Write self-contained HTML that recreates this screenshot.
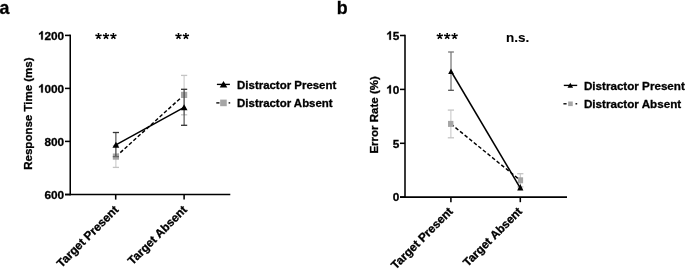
<!DOCTYPE html>
<html><head><meta charset="utf-8"><style>
html,body{margin:0;padding:0;background:#fff;overflow:hidden;}
svg{display:block;filter:grayscale(1);font-family:"Liberation Sans",sans-serif;font-weight:bold;}
text,.g{stroke:#000;stroke-width:0.3px;}
.g{stroke-width:52.1px;fill:#000}
</style></head><body>
<svg width="685" height="269" viewBox="0 0 685 269">
<rect width="685" height="269" fill="#fff"/>
<line x1="70.25" y1="34.62" x2="70.25" y2="195.33" stroke="#000" stroke-width="1.55" />
<line x1="65" y1="35.4" x2="70.25" y2="35.4" stroke="#000" stroke-width="1.55" />
<line x1="65" y1="88.4" x2="70.25" y2="88.4" stroke="#000" stroke-width="1.55" />
<line x1="65" y1="141.4" x2="70.25" y2="141.4" stroke="#000" stroke-width="1.55" />
<line x1="65" y1="194.55" x2="70.25" y2="194.55" stroke="#000" stroke-width="1.55" />
<line x1="65" y1="194.55" x2="230.3" y2="194.55" stroke="#000" stroke-width="1.55" />
<line x1="115.7" y1="194.55" x2="115.7" y2="199.6" stroke="#000" stroke-width="1.55" />
<line x1="184.1" y1="194.55" x2="184.1" y2="199.6" stroke="#000" stroke-width="1.55" />
<text x="64.2" y="39.6" font-size="11.8" text-anchor="end" fill="#000" >200</text>
<path transform="translate(38.35,39.6) scale(0.005762,-0.005762)" d="M772 0H491V1060C386 962 263 889 128 841V1096C199 1119 276 1164 360 1229C443 1294 500 1374 530 1466H772Z" class="g"/>
<text x="64.2" y="92.6" font-size="11.8" text-anchor="end" fill="#000" >000</text>
<path transform="translate(38.35,92.6) scale(0.005762,-0.005762)" d="M772 0H491V1060C386 962 263 889 128 841V1096C199 1119 276 1164 360 1229C443 1294 500 1374 530 1466H772Z" class="g"/>
<text x="64.2" y="145.6" font-size="11.8" text-anchor="end" fill="#000" >800</text>
<text x="64.2" y="198.75" font-size="11.8" text-anchor="end" fill="#000" >600</text>
<line x1="405" y1="34.73" x2="405" y2="197.88" stroke="#000" stroke-width="1.55" />
<line x1="400" y1="35.5" x2="405" y2="35.5" stroke="#000" stroke-width="1.55" />
<line x1="400" y1="89.4" x2="405" y2="89.4" stroke="#000" stroke-width="1.55" />
<line x1="400" y1="143.3" x2="405" y2="143.3" stroke="#000" stroke-width="1.55" />
<line x1="400" y1="197.1" x2="405" y2="197.1" stroke="#000" stroke-width="1.55" />
<line x1="400" y1="197.1" x2="567" y2="197.1" stroke="#000" stroke-width="1.55" />
<line x1="450.9" y1="197.1" x2="450.9" y2="202.2" stroke="#000" stroke-width="1.55" />
<line x1="520.3" y1="197.1" x2="520.3" y2="202.2" stroke="#000" stroke-width="1.55" />
<text x="399.2" y="39.7" font-size="11.8" text-anchor="end" fill="#000" >5</text>
<path transform="translate(386.47,39.7) scale(0.005762,-0.005762)" d="M772 0H491V1060C386 962 263 889 128 841V1096C199 1119 276 1164 360 1229C443 1294 500 1374 530 1466H772Z" class="g"/>
<text x="399.2" y="93.6" font-size="11.8" text-anchor="end" fill="#000" >0</text>
<path transform="translate(386.47,93.6) scale(0.005762,-0.005762)" d="M772 0H491V1060C386 962 263 889 128 841V1096C199 1119 276 1164 360 1229C443 1294 500 1374 530 1466H772Z" class="g"/>
<text x="399.2" y="147.5" font-size="11.8" text-anchor="end" fill="#000" >5</text>
<text x="399.2" y="201.3" font-size="11.8" text-anchor="end" fill="#000" >0</text>
<line x1="115.9" y1="145.8" x2="115.9" y2="167.4" stroke="#c4c4c4" stroke-width="1.0" />
<line x1="112.8" y1="145.8" x2="119" y2="145.8" stroke="#c4c4c4" stroke-width="1.3" />
<line x1="112.8" y1="167.4" x2="119" y2="167.4" stroke="#c4c4c4" stroke-width="1.3" />
<line x1="184.1" y1="75.4" x2="184.1" y2="114.8" stroke="#c4c4c4" stroke-width="1.0" />
<line x1="181" y1="75.4" x2="187.2" y2="75.4" stroke="#c4c4c4" stroke-width="1.3" />
<line x1="181" y1="114.8" x2="187.2" y2="114.8" stroke="#c4c4c4" stroke-width="1.3" />
<line x1="115.9" y1="156.6" x2="184.1" y2="94.9" stroke="#000" stroke-width="1.45" stroke-dasharray="3.7 2.2"/>
<rect x="112.8" y="153.5" width="6.2" height="6.2" fill="#a6a6a6"/>
<rect x="181" y="91.8" width="6.2" height="6.2" fill="#a6a6a6"/>
<line x1="115.9" y1="132.5" x2="115.9" y2="156.6" stroke="#333" stroke-width="1.0" />
<line x1="112.8" y1="132.5" x2="119" y2="132.5" stroke="#333" stroke-width="1.3" />
<line x1="112.8" y1="156.6" x2="119" y2="156.6" stroke="#666" stroke-width="1.3" />
<line x1="184.1" y1="89.3" x2="184.1" y2="125.3" stroke="#333" stroke-width="1.0" />
<line x1="181" y1="89.3" x2="187.2" y2="89.3" stroke="#333" stroke-width="1.3" />
<line x1="181" y1="125.3" x2="187.2" y2="125.3" stroke="#333" stroke-width="1.3" />
<line x1="115.9" y1="144.9" x2="184.1" y2="107.3" stroke="#000" stroke-width="1.5" />
<polygon points="115.9,141.8 119.35,147.8 112.45,147.8" fill="#000"/>
<polygon points="184.1,104.3 187.55,110.3 180.65,110.3" fill="#000"/>
<line x1="450.9" y1="110.1" x2="450.9" y2="137.8" stroke="#c4c4c4" stroke-width="1.0" />
<line x1="447.8" y1="110.1" x2="454" y2="110.1" stroke="#c4c4c4" stroke-width="1.3" />
<line x1="447.8" y1="137.8" x2="454" y2="137.8" stroke="#c4c4c4" stroke-width="1.3" />
<line x1="520.3" y1="173.7" x2="520.3" y2="186.9" stroke="#c4c4c4" stroke-width="1.0" />
<line x1="517.2" y1="173.7" x2="523.4" y2="173.7" stroke="#c4c4c4" stroke-width="1.3" />
<line x1="517.2" y1="186.9" x2="523.4" y2="186.9" stroke="#c4c4c4" stroke-width="1.3" />
<line x1="450.9" y1="123.9" x2="520.3" y2="180.3" stroke="#000" stroke-width="1.45" stroke-dasharray="3.7 2.2"/>
<rect x="448" y="120.9" width="5.4" height="6" fill="#a6a6a6"/>
<rect x="517.9" y="177.3" width="5.2" height="6" fill="#a6a6a6"/>
<line x1="451" y1="52" x2="451" y2="90.3" stroke="#555" stroke-width="1.0" />
<line x1="448.1" y1="52" x2="453.9" y2="52" stroke="#777" stroke-width="1.3" />
<line x1="448.1" y1="90.3" x2="453.9" y2="90.3" stroke="#555" stroke-width="1.3" />
<line x1="450.9" y1="71" x2="520.3" y2="188.1" stroke="#000" stroke-width="1.5" />
<polygon points="451,68.6 453.8,74 448.2,74" fill="#000"/>
<polygon points="520.3,183.9 523.4,190.5 517.2,190.5" fill="#000"/>
<text x="-0.6" y="13.9" font-size="17.8" text-anchor="start" fill="#000" >a</text>
<text x="336.7" y="13.9" font-size="17.8" text-anchor="start" fill="#000" >b</text>
<text transform="translate(32.2,113.6) rotate(-90)" font-size="11.5" text-anchor="middle">Response Time (ms)</text>
<text transform="translate(378.3,114.9) rotate(-90)" font-size="11.5" text-anchor="middle">Error Rate (%)</text>
<text transform="translate(119.2,210.4) rotate(-45)" font-size="11.8" text-anchor="end">Target Present</text>
<text transform="translate(187.7,210.4) rotate(-45)" font-size="11.8" text-anchor="end">Target Absent</text>
<text transform="translate(453.6,212.1) rotate(-45)" font-size="11.8" text-anchor="end">Target Present</text>
<text transform="translate(522.9,212.1) rotate(-45)" font-size="11.8" text-anchor="end">Target Absent</text>
<path d="M99 36.1L99.38 32.9L97.62 32.9L98 36.1ZM98.65 35.62L95.73 34.28L95.19 35.94L98.35 36.58ZM98.1 35.81L95.91 38.17L97.33 39.2L98.9 36.39ZM98.1 36.39L99.67 39.2L101.09 38.17L98.9 35.81ZM98.65 36.58L101.81 35.94L101.27 34.28L98.35 35.62Z" fill="#000"/>
<path d="M106.5 36.1L106.88 32.9L105.12 32.9L105.5 36.1ZM106.15 35.62L103.23 34.28L102.69 35.94L105.85 36.58ZM105.6 35.81L103.41 38.17L104.83 39.2L106.4 36.39ZM105.6 36.39L107.17 39.2L108.59 38.17L106.4 35.81ZM106.15 36.58L109.31 35.94L108.77 34.28L105.85 35.62Z" fill="#000"/>
<path d="M113.9 36.1L114.28 32.9L112.53 32.9L112.9 36.1ZM113.55 35.62L110.63 34.28L110.09 35.94L113.25 36.58ZM113 35.81L110.81 38.17L112.23 39.2L113.8 36.39ZM113 36.39L114.57 39.2L115.99 38.17L113.8 35.81ZM113.55 36.58L116.71 35.94L116.17 34.28L113.25 35.62Z" fill="#000"/>
<path d="M179 36.1L179.38 32.9L177.62 32.9L178 36.1ZM178.65 35.62L175.73 34.28L175.19 35.94L178.35 36.58ZM178.1 35.81L175.91 38.17L177.33 39.2L178.9 36.39ZM178.1 36.39L179.67 39.2L181.09 38.17L178.9 35.81ZM178.65 36.58L181.81 35.94L181.27 34.28L178.35 35.62Z" fill="#000"/>
<path d="M186.4 36.1L186.78 32.9L185.03 32.9L185.4 36.1ZM186.05 35.62L183.13 34.28L182.59 35.94L185.75 36.58ZM185.5 35.81L183.31 38.17L184.73 39.2L186.3 36.39ZM185.5 36.39L187.07 39.2L188.49 38.17L186.3 35.81ZM186.05 36.58L189.21 35.94L188.67 34.28L185.75 35.62Z" fill="#000"/>
<path d="M440.3 36.1L440.68 32.9L438.93 32.9L439.3 36.1ZM439.95 35.62L437.03 34.28L436.49 35.94L439.65 36.58ZM439.4 35.81L437.21 38.17L438.63 39.2L440.2 36.39ZM439.4 36.39L440.97 39.2L442.39 38.17L440.2 35.81ZM439.95 36.58L443.11 35.94L442.57 34.28L439.65 35.62Z" fill="#000"/>
<path d="M447.7 36.1L448.07 32.9L446.32 32.9L446.7 36.1ZM447.35 35.62L444.43 34.28L443.89 35.94L447.05 36.58ZM446.8 35.81L444.61 38.17L446.03 39.2L447.6 36.39ZM446.8 36.39L448.37 39.2L449.79 38.17L447.6 35.81ZM447.35 36.58L450.51 35.94L449.97 34.28L447.05 35.62Z" fill="#000"/>
<path d="M455.1 36.1L455.48 32.9L453.73 32.9L454.1 36.1ZM454.75 35.62L451.83 34.28L451.29 35.94L454.45 36.58ZM454.2 35.81L452.01 38.17L453.43 39.2L455 36.39ZM454.2 36.39L455.77 39.2L457.19 38.17L455 35.81ZM454.75 36.58L457.91 35.94L457.37 34.28L454.45 35.62Z" fill="#000"/>
<text x="517.6" y="41.9" font-size="13.5" text-anchor="middle" fill="#000" style="stroke-width:0.1px">n.s.</text>
<line x1="216.9" y1="84.4" x2="229.9" y2="84.4" stroke="#000" stroke-width="1.35" />
<polygon points="223.5,81 227.3,87.6 219.7,87.6" fill="#000"/>
<line x1="216.3" y1="102.9" x2="219.5" y2="102.9" stroke="#000" stroke-width="1.35" />
<rect x="220.15" y="99.6" width="6.6" height="6.6" fill="#a6a6a6"/>
<line x1="228.6" y1="102.9" x2="230.2" y2="102.9" stroke="#000" stroke-width="1.35" />
<text x="237.1" y="88.8" font-size="11.45" text-anchor="start" fill="#000" >Distractor Present</text>
<text x="237.1" y="106.7" font-size="11.45" text-anchor="start" fill="#000" >Distractor Absent</text>
<line x1="563.8" y1="85.4" x2="577.2" y2="85.4" stroke="#000" stroke-width="1.35" />
<polygon points="570.3,82.8 573.1,87.8 567.5,87.8" fill="#000"/>
<line x1="563.4" y1="103.8" x2="566.6" y2="103.8" stroke="#000" stroke-width="1.35" />
<rect x="568.15" y="101.5" width="4.6" height="4.6" fill="#a6a6a6"/>
<line x1="575.5" y1="103.8" x2="577.2" y2="103.8" stroke="#000" stroke-width="1.35" />
<text x="583.9" y="89.8" font-size="11.65" text-anchor="start" fill="#000" >Distractor Present</text>
<text x="583.9" y="107.9" font-size="11.65" text-anchor="start" fill="#000" >Distractor Absent</text>
</svg>
</body></html>
